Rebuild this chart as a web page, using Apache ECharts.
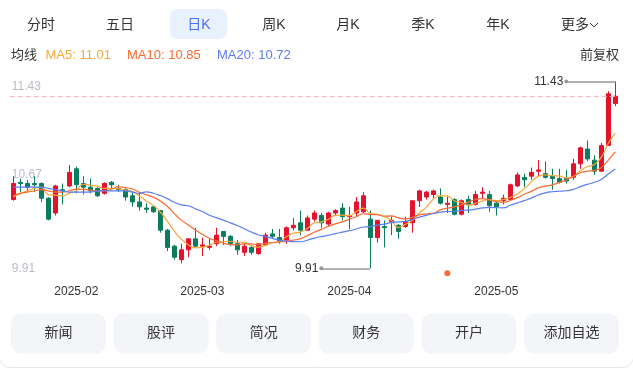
<!DOCTYPE html>
<html><head><meta charset="utf-8">
<script src="https://cdn.jsdelivr.net/npm/echarts@6/dist/echarts.min.js"></script>
<style>
html,body{margin:0;padding:0;background:#fff;width:633px;height:374px;overflow:hidden;}
#chart{position:absolute;left:0;top:0;width:633px;height:374px;}
</style></head><body>
<div id="chart"></div>
<script>
// ---------- data ----------
const dates = [
 '2025-01-15','2025-01-16','2025-01-17','2025-01-20','2025-01-21','2025-01-22','2025-01-23','2025-01-24','2025-01-27',
 '2025-02-05','2025-02-06','2025-02-07','2025-02-10','2025-02-11','2025-02-12','2025-02-13','2025-02-14','2025-02-17','2025-02-18',
 '2025-02-19','2025-02-20','2025-02-21','2025-02-24','2025-02-25','2025-02-26','2025-02-27','2025-02-28',
 '2025-03-03','2025-03-04','2025-03-05','2025-03-06','2025-03-07','2025-03-10','2025-03-11','2025-03-12','2025-03-13','2025-03-14',
 '2025-03-17','2025-03-18','2025-03-19','2025-03-20','2025-03-21','2025-03-24','2025-03-25','2025-03-26','2025-03-27','2025-03-28','2025-03-31',
 '2025-04-01','2025-04-02','2025-04-03','2025-04-07','2025-04-08','2025-04-09','2025-04-10','2025-04-11','2025-04-14','2025-04-15',
 '2025-04-16','2025-04-17','2025-04-18','2025-04-21','2025-04-22','2025-04-23','2025-04-24','2025-04-25','2025-04-28','2025-04-29','2025-04-30',
 '2025-05-06','2025-05-07','2025-05-08','2025-05-09','2025-05-12','2025-05-13','2025-05-14','2025-05-15','2025-05-16',
 '2025-05-19','2025-05-20','2025-05-21','2025-05-22','2025-05-23','2025-05-26','2025-05-27','2025-05-28','2025-05-29'
];
const opens = [
 10.47,10.61,10.60,10.60,10.60,10.48,10.36,10.55,10.58,10.72,10.60,10.57,10.56,10.52,10.61,10.56,10.55,10.50,10.45,10.40,
 10.41,10.38,10.22,10.09,9.98,10.06,10.15,10.09,10.08,10.11,10.21,10.17,10.11,10.04,10.08,10.03,10.10,10.19,10.16,10.14,
 10.24,10.28,10.22,10.31,10.34,10.27,10.36,10.40,10.33,10.36,10.37,10.31,10.16,10.25,10.29,10.26,10.25,10.28,10.46,10.49,
 10.51,10.49,10.43,10.47,10.35,10.47,10.43,10.52,10.51,10.44,10.46,10.47,10.58,10.65,10.66,10.70,10.68,10.66,10.64,10.64,
 10.65,10.76,10.88,10.79,10.70,10.91,11.25
];
const closes = [
 10.60,10.60,10.57,10.59,10.48,10.31,10.58,10.54,10.69,10.59,10.57,10.54,10.50,10.60,10.59,10.55,10.49,10.45,10.41,10.39,
 10.37,10.22,10.08,10.00,10.06,10.15,10.09,10.10,10.09,10.18,10.17,10.11,10.06,10.09,10.04,10.11,10.18,10.17,10.13,10.24,
 10.26,10.22,10.32,10.36,10.28,10.36,10.38,10.33,10.34,10.45,10.50,10.16,10.30,10.24,10.30,10.21,10.29,10.46,10.54,10.53,
 10.54,10.44,10.44,10.35,10.46,10.43,10.51,10.53,10.42,10.41,10.48,10.59,10.67,10.63,10.69,10.71,10.65,10.64,10.61,10.62,
 10.76,10.89,10.80,10.70,10.91,11.33,11.31
];
const lows = [
 10.46,10.53,10.53,10.53,10.45,10.30,10.34,10.43,10.57,10.52,10.51,10.52,10.49,10.51,10.56,10.53,10.46,10.41,10.38,10.36,
 10.36,10.20,10.05,9.98,9.95,10.00,10.08,10.01,10.06,10.09,10.10,10.09,10.02,10.01,10.02,10.02,10.09,10.15,10.11,10.11,
 10.22,10.18,10.22,10.29,10.24,10.25,10.34,10.30,10.23,10.33,10.36,9.91,10.12,10.08,10.18,10.15,10.24,10.20,10.41,10.47,
 10.48,10.43,10.36,10.34,10.34,10.36,10.42,10.48,10.37,10.34,10.43,10.46,10.57,10.57,10.63,10.66,10.64,10.55,10.60,10.60,
 10.63,10.72,10.78,10.67,10.70,10.91,11.23
];
const highs = [
 10.66,10.64,10.63,10.66,10.61,10.49,10.59,10.60,10.75,10.74,10.66,10.64,10.57,10.61,10.62,10.59,10.56,10.53,10.53,10.44,
 10.42,10.38,10.23,10.10,10.11,10.15,10.24,10.16,10.15,10.24,10.21,10.18,10.14,10.11,10.09,10.11,10.20,10.23,10.23,10.25,
 10.32,10.38,10.34,10.38,10.36,10.37,10.39,10.44,10.41,10.49,10.53,10.38,10.30,10.30,10.33,10.27,10.33,10.46,10.55,10.54,
 10.55,10.56,10.50,10.48,10.47,10.50,10.54,10.57,10.54,10.45,10.51,10.60,10.69,10.68,10.73,10.79,10.78,10.72,10.72,10.71,
 10.80,10.90,10.95,10.83,10.93,11.35,11.43
];
// moving-average values at the left edge (earlier history is off-screen)
const ma5Lead  = [10.49,10.52,10.54,10.56];
const ma10Lead = [10.50,10.52,10.53,10.54,10.55,10.54,10.53,10.53,10.54];
const ma20Lead = [10.57,10.57,10.57,10.57,10.57,10.56,10.55,10.54,10.53,10.53,10.53,10.53,10.54,10.54,10.54,10.54,10.54,10.53,10.52];
const maLegend = ['11.01','10.85','10.72'];
const eventDates = ['2025-04-22'];
const tabs = ['分时','五日','日K','周K','月K','季K','年K','更多'];
const buttons = ['新闻','股评','简况','财务','开户','添加自选'];

// ---------- build ----------
const FONT = '"Liberation Sans","Noto Sans CJK SC",sans-serif';
const RED = '#e3132c', GREEN = '#0b7d5e';
const C_MA5 = '#f8a93a', C_MA10 = '#fb6a2f', C_MA20 = '#5b7cf3';

const kData = dates.map((d,i)=>[opens[i],closes[i],lows[i],highs[i]]);
function ma(n, lead){
  return closes.map((c,i)=>{
    if(i < n-1) return lead[i];
    let s=0; for(let j=i-n+1;j<=i;j++) s+=closes[j];
    return +(s/n).toFixed(3);
  });
}
const yMin = Math.min(...lows), yMax = Math.max(...highs);
const loIdx = lows.indexOf(yMin), hiIdx = highs.indexOf(yMax);
const lastClose = closes[closes.length-1];
const yMid = +((yMin+yMax)/2).toFixed(2);
const monthStart = dates.map((d,i)=> i>0 && d.slice(0,7)!==dates[i-1].slice(0,7));
const eventIdx = eventDates.map(d=>dates.indexOf(d));

const chart = echarts.init(document.getElementById('chart'), null, {renderer:'canvas'});

const graphics = [];
// card border (only the rounded bottom edge is inside the view)
graphics.push({type:'rect', shape:{x:-1,y:-20,width:635,height:387.5,r:12}, style:{fill:'none',stroke:'#e6e7ea',lineWidth:1}, z:-1});
// tabs
const tabX = [41,120,199,274,348,423,498,575];
graphics.push({type:'rect', shape:{x:170,y:9,width:57,height:30,r:8}, style:{fill:'#e8f1fe'}});
tabs.forEach((t,i)=>{
  graphics.push({type:'text', x:tabX[i], y:25, style:{text:t, fill: i===2?'#4a6ff2':'#333', fontSize:14, fontFamily:FONT, align:'center', verticalAlign:'middle'}});
});
graphics.push({type:'polyline', shape:{points:[[590,23],[594,27],[598,23]]}, style:{stroke:'#333',lineWidth:1,fill:'none'}});
// legend row
graphics.push({type:'text', x:11, y:55.5, style:{text:'均线', fill:'#333', fontSize:13, fontFamily:FONT, verticalAlign:'middle'}});
const legX = [45.5,127,217];
const legC = [C_MA5,C_MA10,C_MA20];
['MA5','MA10','MA20'].forEach((n,i)=>{
  graphics.push({type:'text', x:legX[i], y:55.5, style:{text:n+': '+maLegend[i], fill:legC[i], fontSize:13, fontFamily:FONT, verticalAlign:'middle'}});
});
graphics.push({type:'text', x:619, y:55.5, style:{text:'前复权', fill:'#333', fontSize:13, fontFamily:FONT, align:'right', verticalAlign:'middle'}});
// bottom buttons
buttons.forEach((b,i)=>{
  const x = 11 + i*102.6;
  graphics.push({type:'rect', shape:{x:x,y:313.5,width:95,height:40,r:10}, style:{fill:'#f4f5f9'}});
  graphics.push({type:'text', x:x+47.5, y:333.5, style:{text:b, fill:'#333', fontSize:14, fontFamily:FONT, align:'center', verticalAlign:'middle'}});
});

const option = {
  animation:false,
  backgroundColor:'#fff',
  textStyle:{fontFamily:FONT},
  grid:{left:9.8, right:14.2, top:81.5, bottom:105.7},
  xAxis:{
    type:'category', data:dates, boundaryGap:true,
    axisLine:{show:false}, axisTick:{show:false}, splitLine:{show:false},
    axisLabel:{
      interval:(i)=>monthStart[i], formatter:(v)=>v.slice(0,7),
      color:'#333', fontSize:12, margin:17
    }
  },
  yAxis:{
    type:'value', min:yMin, max:yMax, scale:true,
    axisLine:{show:false}, axisTick:{show:false}, splitLine:{show:false},
    axisLabel:{
      inside:true, margin:2, color:'#b9bdc6', fontSize:12,
      customValues:[yMin,yMid,yMax],
      formatter:(v)=> Math.abs(v-yMax)<1e-6 ? '{t|'+v.toFixed(2)+'}' : v.toFixed(2),
      rich:{t:{padding:[10,0,0,0], color:'#b9bdc6', fontSize:12}}
    }
  },
  series:[
    {
      type:'candlestick', data:kData, barWidth:4,
      itemStyle:{color:RED, color0:GREEN, borderColor:RED, borderColor0:GREEN, borderWidth:1},
      markLine:{
        silent:true, symbol:['none','none'], label:{show:false},
        lineStyle:{color:'#f5b7bc', type:[5,3], width:1},
        data:[{yAxis:lastClose}]
      },
      markPoint:{
        silent:true, symbol:'circle', symbolSize:6, symbolOffset:[0,5],
        itemStyle:{color:'#ff6a3d'}, label:{show:false},
        data:eventIdx.map(i=>({coord:[dates[i], yMin]}))
      }
    },
    {type:'line', name:'MA5', data:ma(5,ma5Lead), smooth:true, showSymbol:false, z:3, lineStyle:{color:C_MA5,width:1.2}},
    {type:'line', name:'MA10', data:ma(10,ma10Lead), smooth:true, showSymbol:false, z:3, lineStyle:{color:C_MA10,width:1.2}},
    {type:'line', name:'MA20', data:ma(20,ma20Lead), smooth:true, showSymbol:false, z:3, lineStyle:{color:C_MA20,width:1.2},
      markLine:{
        silent:true, symbol:['none','circle'], symbolSize:4,
        lineStyle:{color:'#999', type:'solid', width:1.5},
        label:{show:true, position:'end', distance:3, color:'#333', fontSize:12},
        data:[
          [{coord:[dates[hiIdx], yMax]}, {coord:[dates[hiIdx-7], yMax], label:{formatter:yMax.toFixed(2)}}],
          [{coord:[dates[loIdx], yMin]}, {coord:[dates[loIdx-7], yMin], label:{formatter:yMin.toFixed(2)}}]
        ]
      }
    }
  ],
  graphic:graphics
};
chart.setOption(option);
</script>
</body></html>
